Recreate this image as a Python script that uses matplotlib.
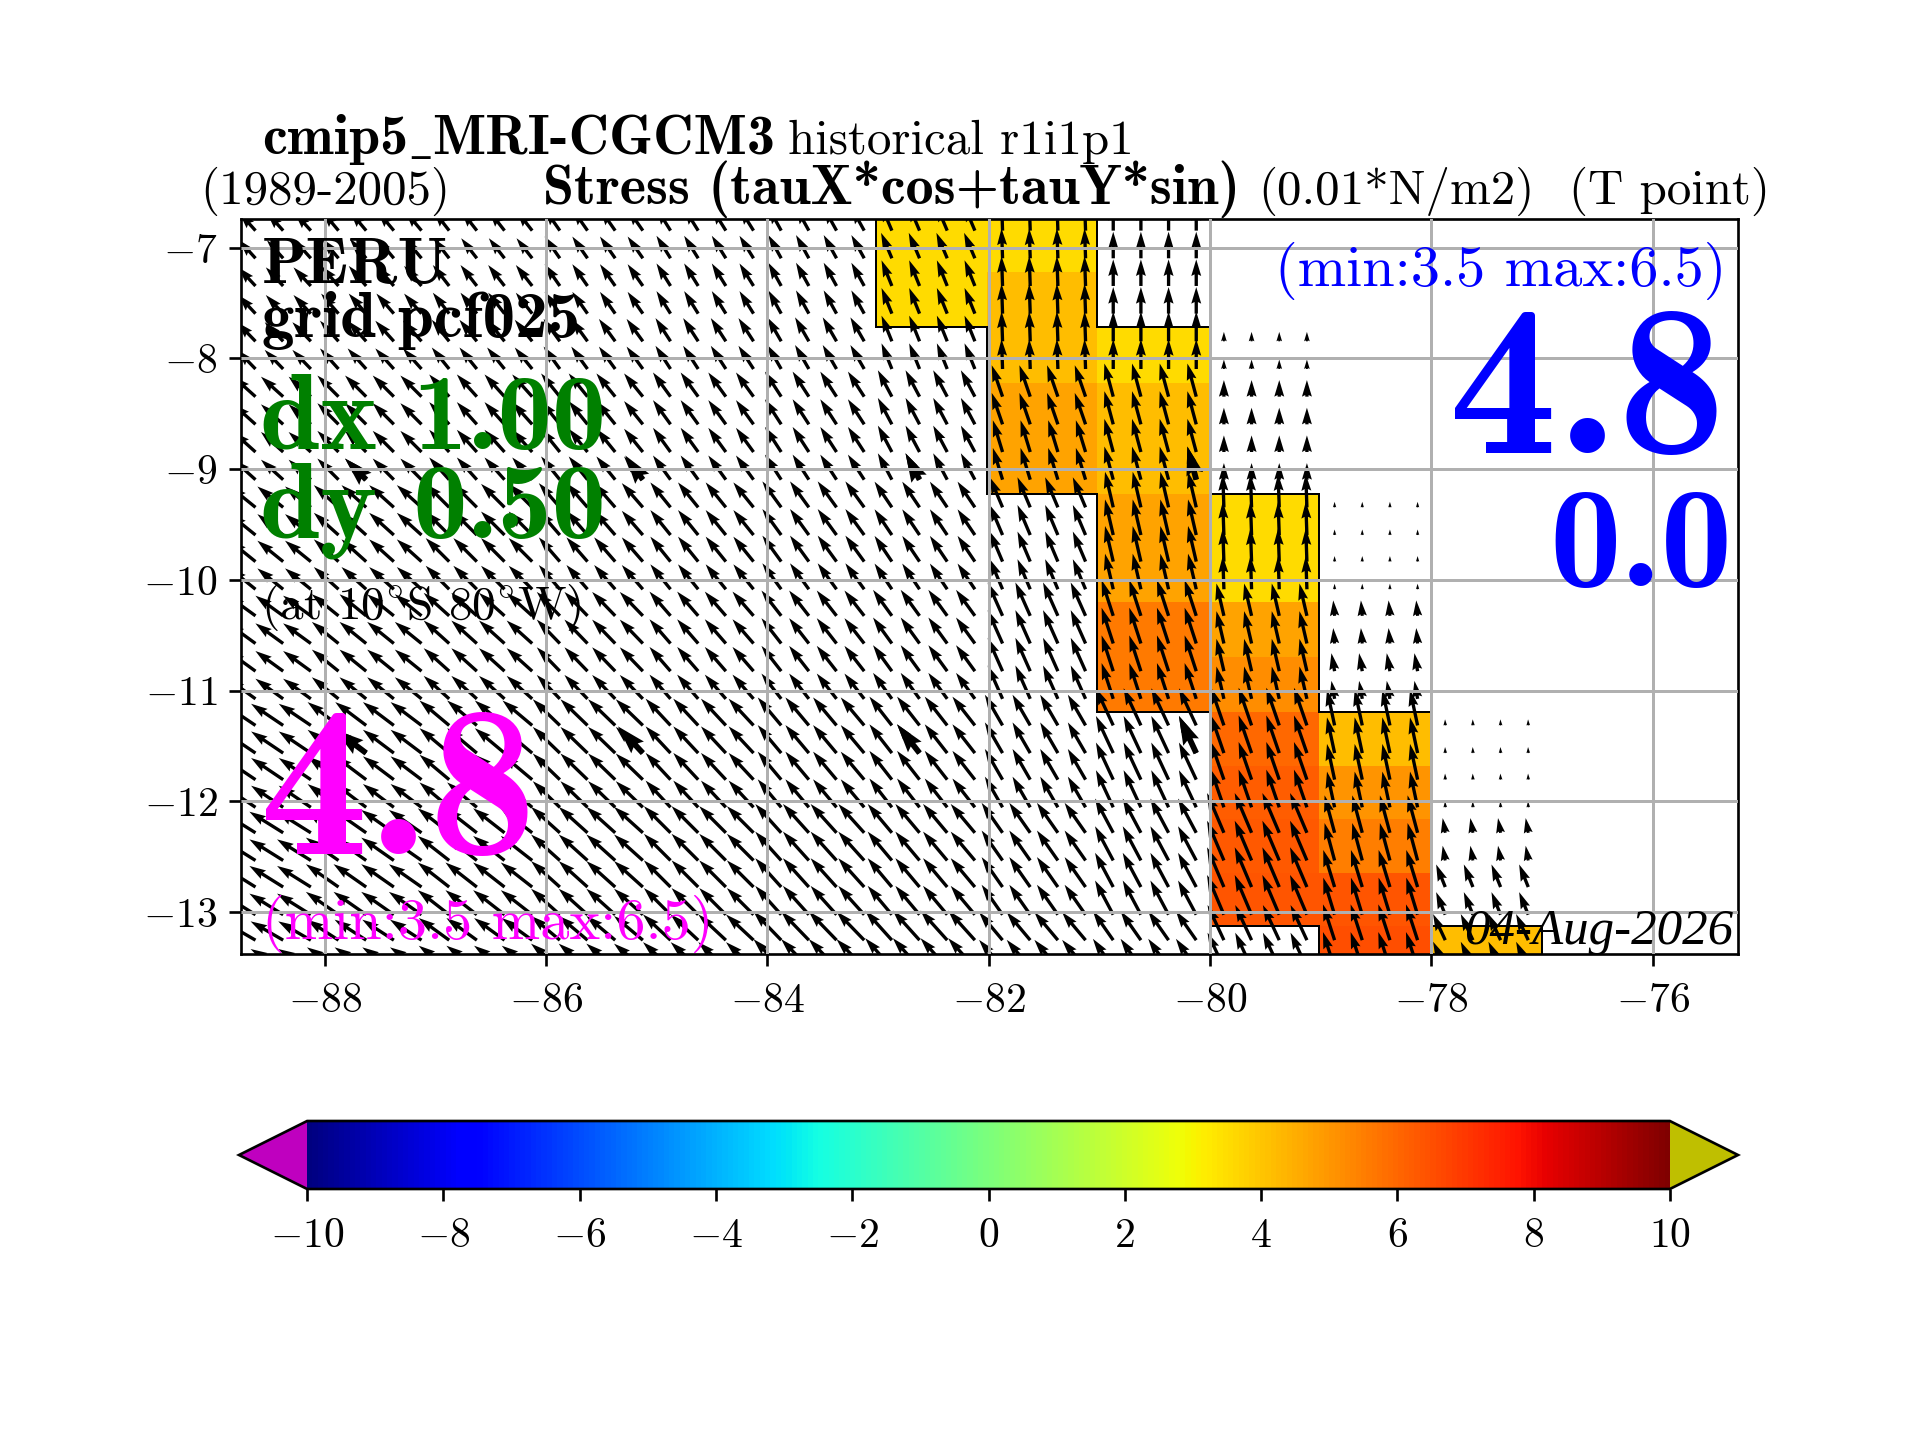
import numpy as np
import matplotlib
matplotlib.use('Agg')
import matplotlib.pyplot as plt

plt.rcParams['font.family'] = ['cmr10']
plt.rcParams['mathtext.fontset'] = 'cm'
plt.rcParams['axes.unicode_minus'] = False
plt.rcParams['axes.formatter.use_mathtext'] = True

# cell edges
lon_edges = [-89, -88, -87, -86, -85, -84, -83, -82, -81, -80, -79, -78, -77]
field_lon_edges = [-83.02, -82.02, -81.02, -80.0, -79.02, -78.0, -77.0]
lat_edges = [-6.72, -7.22, -7.72, -8.22, -8.72, -9.22, -9.71, -10.2, -10.7, -11.19, -11.68, -12.16, -12.65, -13.13, -13.61]
n = np.nan
# coloured field, columns from -83 to -77
field = [
    [3.55, 3.55, n, n, n, n],
    [3.55, 4.18, n, n, n, n],
    [n, 4.18, 3.55, n, n, n],
    [n, 4.7, 4.18, n, n, n],
    [n, 4.7, 4.18, n, n, n],
    [n, n, 4.7, 3.55, n, n],
    [n, n, 4.7, 3.55, n, n],
    [n, n, 5.6, 4.7, n, n],
    [n, n, 5.6, 5.2, n, n],
    [n, n, n, 6.0, 4.18, n],
    [n, n, n, 6.2, 5.0, n],
    [n, n, n, 6.3, 5.5, n],
    [n, n, n, 6.4, 6.4, n],
    [n, n, n, n, 6.5, 4.18],
]
# wind-stress arrows, one value per 1 x 0.5 degree cell, columns from -89
arrow_angle = [
    [132, 130, 128, 125, 122, 119, 113, 92, 90, n, n, n],
    [133, 131, 128, 125, 122, 119, 112, 92, 90, n, n, n],
    [134, 132, 129, 126, 123, 120, 112, 92, 90, 90, n, n],
    [138, 135, 132, 129, 126, 123, 118, 109, 105, 90, n, n],
    [138, 135, 132, 129, 126, 123, 118, 107, 105, 90, n, n],
    [141, 138, 135, 131, 129, 126, 124, 113, 103, 92, 90, n],
    [141, 138, 135, 131, 129, 126, 124, 113, 103, 92, 90, n],
    [144, 141, 138, 134, 131, 128, 126, 114, 108, 103, 95, n],
    [144, 141, 138, 134, 131, 128, 126, 114, 108, 103, 100, n],
    [146, 143, 140, 136, 133, 130, 128, 120, 115, 109, 102, 92],
    [146, 143, 140, 136, 133, 130, 128, 120, 115, 109, 102, 92],
    [148, 145, 142, 138, 135, 132, 130, 125, 118, 113, 105, 100],
    [148, 145, 142, 138, 135, 132, 130, 125, 118, 113, 107, 112],
    [150, 147, 144, 140, 137, 134, 132, 130, 125, 115, 108, 115],
]
arrow_len = [
    [.22, .23, .23, .24, .24, .24, .25, .27, .24, n, n, n],
    [.23, .24, .24, .24, .24, .24, .25, .27, .24, n, n, n],
    [.24, .25, .25, .25, .25, .25, .25, .27, .27, .085, n, n],
    [.27, .27, .27, .27, .27, .27, .27, .30, .31, .15, n, n],
    [.27, .27, .27, .27, .27, .27, .27, .30, .31, .15, n, n],
    [.30, .30, .30, .29, .29, .29, .28, .295, .33, .30, .05, n],
    [.30, .30, .30, .29, .29, .29, .28, .295, .33, .30, .05, n],
    [.31, .31, .31, .30, .29, .29, .29, .33, .34, .30, .14, n],
    [.31, .31, .31, .30, .29, .29, .29, .33, .34, .30, .165, n],
    [.35, .35, .35, .34, .33, .33, .33, .32, .37, .36, .33, .055],
    [.35, .35, .35, .34, .33, .33, .33, .32, .37, .36, .33, .055],
    [.36, .36, .36, .35, .34, .35, .34, .33, .35, .39, .35, .135],
    [.36, .36, .36, .35, .34, .35, .34, .33, .35, .39, .35, .22],
    [.34, .34, .34, .34, .34, .36, .36, .33, .32, .35, .34, .26],
]
# the emphasised arrows every 2.5 degrees
big_lon = [-87.625, -85.125, -82.625, -80.125, -87.625, -85.125, -82.625, -80.125]
big_lat = [-9.095, -9.095, -9.095, -9.095, -11.565, -11.565, -11.565, -11.565]
big_ang = [135, 126, 118, 105, 143, 133, 128, 115]
big_len = [.27, .27, .27, .31, .35, .33, .33, .37]

cbar_ticks = [-10, -8, -6, -4, -2, 0, 2, 4, 6, 8, 10]
xticks = [-88, -86, -84, -82, -80, -78, -76]
yticks = [-7, -8, -9, -10, -11, -12, -13]

fig = plt.figure(figsize=(8, 6), dpi=240)
ax = fig.add_axes([241/1920, 1-954/1440, (1738-241)/1920, (954-219)/1440])

lon_e = np.array(lon_edges, float)
lat_e = np.array(lat_edges, float)
lx = np.array(field_lon_edges, float)
F = np.ma.masked_invalid(np.array(field, float))
mesh = ax.pcolormesh(lx, lat_e, F, cmap='jet', vmin=-10, vmax=10, zorder=1)

# outline of the coloured cells
mask = ~np.ma.getmaskarray(F)
ny, nx = mask.shape
for i in range(ny):
    for j in range(nx):
        if not mask[i, j]:
            continue
        if i == 0 or not mask[i-1, j]:
            ax.plot([lx[j], lx[j+1]], [lat_e[i]]*2, 'k', lw=0.6, zorder=1.5)
        if i == ny-1 or not mask[i+1, j]:
            ax.plot([lx[j], lx[j+1]], [lat_e[i+1]]*2, 'k', lw=0.6, zorder=1.5)
        if j == 0 or not mask[i, j-1]:
            ax.plot([lx[j]]*2, [lat_e[i], lat_e[i+1]], 'k', lw=0.6, zorder=1.5)
        if j == nx-1 or not mask[i, j+1]:
            ax.plot([lx[j+1]]*2, [lat_e[i], lat_e[i+1]], 'k', lw=0.6, zorder=1.5)

# arrows: four across, two down in every cell
A = np.array(arrow_angle, float)
L = np.array(arrow_len, float)
xs, ys, us, vs = [], [], [], []
for i in range(A.shape[0]):
    for j in range(A.shape[1]):
        if np.isnan(A[i, j]):
            continue
        for dx in (.125, .375, .625, .875):
            for dy in (.125, .375):
                xs.append(lon_e[j] + dx)
                ys.append(lat_e[i] - dy)
                us.append(L[i, j]*np.cos(np.radians(A[i, j])))
                vs.append(L[i, j]*np.sin(np.radians(A[i, j])))
qkw = dict(angles='xy', scale_units='xy', scale=1, units='xy', color='k', zorder=1.8)
ax.quiver(xs, ys, us, vs, width=0.03, **qkw)
ba = np.radians(big_ang)
ax.quiver(big_lon, big_lat, np.array(big_len)*np.cos(ba), np.array(big_len)*np.sin(ba), width=0.052, **qkw)

ax.set_xlim(-88.756, -75.23)
ax.set_ylim(-13.38, -6.74)
ax.set_xticks(xticks)
ax.set_yticks(yticks)
ax.grid(True, color='#b0b0b0', lw=0.9)
ax.set_axisbelow(False)
ax.set_xticklabels([rf'$-{abs(v)}$' for v in xticks])
ax.set_yticklabels([rf'$-{abs(v)}$' for v in yticks])
ax.tick_params(labelsize=12.5)
ax.tick_params(axis='x', pad=5)


def px(x, y):
    return x/1560, 1 - y/1170


def ftext(x, y, s, **kw):
    kw.setdefault('ha', 'left')
    kw.setdefault('va', 'baseline')
    fig.text(*px(x, y), s, zorder=5, **kw)


ftext(213, 125.5, 'cmip5', family='cmb10', fontsize=16.8)
ftext(334, 125.5, '_', family='Liberation Serif', weight='bold', fontsize=11)
ftext(351, 125.5, 'MRI-CGCM3', family='cmb10', fontsize=16.8)
ftext(640, 125.5, 'historical r1i1p1', fontsize=14.7)
ftext(163, 166, '(1989-2005)', fontsize=14.7)
ftext(441, 166, 'Stress (tauX*cos+tauY*sin)', family='cmb10', fontsize=16.8)
ftext(1022, 166, '(0.01*N/m2)', fontsize=14.7)
ftext(1275, 166, '(T point)', fontsize=14.7)

ftext(213, 230, 'PERU', family='cmb10', fontsize=19.5)
ftext(213, 274, 'grid pcf025', family='cmb10', fontsize=19.5)
ftext(211, 365, 'dx 1.00', family='cmb10', fontsize=32.5, color='green')
ftext(211, 437, 'dy 0.50', family='cmb10', fontsize=32.5, color='green')
ftext(212, 503, r'(at 10$^{\circ}$S 80$^{\circ}$W)', fontsize=14.2)
ftext(211, 694, '4.8', family='cmb10', fontsize=65, color='magenta')
ftext(213, 763, '(min:3.5 max:6.5)', fontsize=17.5, color='magenta')
ftext(1403, 232, '(min:3.5 max:6.5)', fontsize=17.5, color='blue', ha='right')
ftext(1402, 368, '4.8', family='cmb10', fontsize=65, color='blue', ha='right')
ftext(1408, 476, '0.0', family='cmb10', fontsize=43, color='blue', ha='right')
ftext(1408, 767, '04-Aug-2026', fontsize=15.3, family='Liberation Serif', style='italic', ha='right')

cax = fig.add_axes([239/1920, 1-1189/1440, (1738-239)/1920, (1189-1121)/1440])
cb = fig.colorbar(mesh, cax=cax, orientation='horizontal', extend='both', ticks=cbar_ticks)
cb.cmap.set_under((.75, 0, .75))
cb.cmap.set_over((.75, .75, 0))
mesh.changed()
cb.ax.set_xticklabels([rf'$-{abs(v)}$' if v < 0 else f'${v}$' for v in cbar_ticks])
cb.ax.tick_params(labelsize=12.5, pad=5)

fig.savefig('out.png', dpi=240)
